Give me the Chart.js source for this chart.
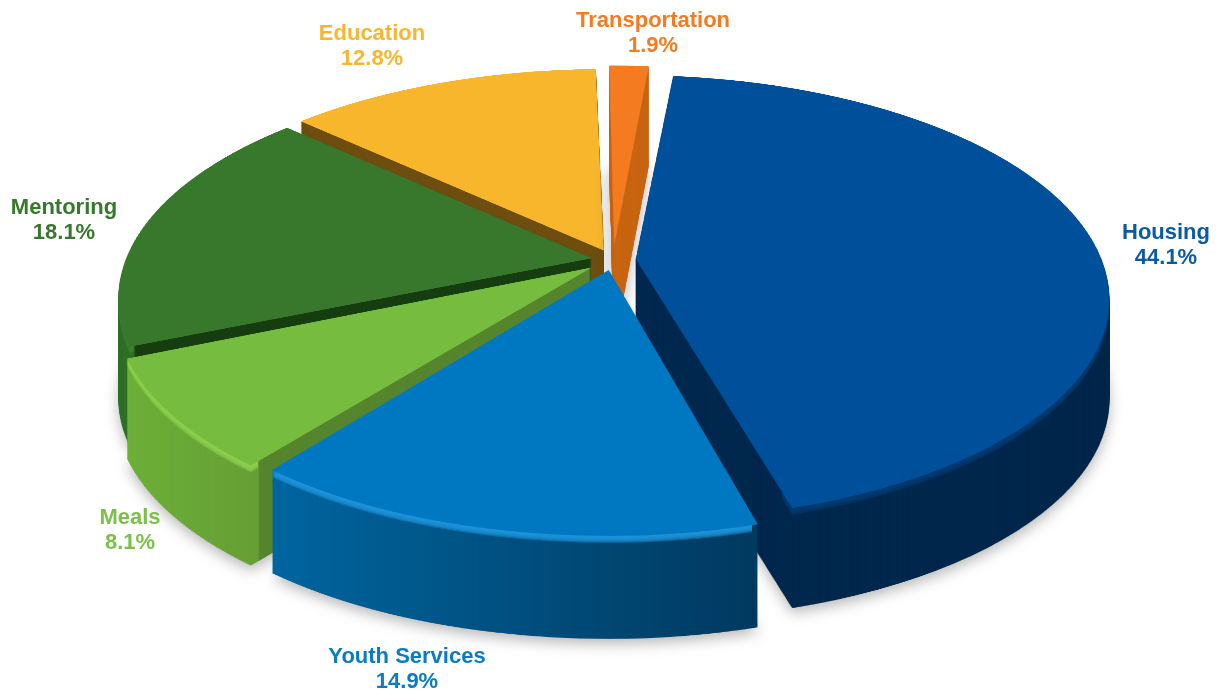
<!DOCTYPE html>
<html>
<head>
<meta charset="utf-8">
<title>Expenses</title>
<script src="https://cdn.jsdelivr.net/npm/chart.js@4"></script>
<style>
  html, body { margin: 0; padding: 0; background: #fff; }
  #wrap { position: relative; width: 1220px; height: 690px; overflow: hidden; filter: blur(0.5px); }
  #pie { position: absolute; left: 0; top: 0; }
  .lbl { position: absolute; transform: translateX(-50%); text-align: center; white-space: nowrap;
         font: bold 22px/25px "Liberation Sans", Arial, sans-serif; }
</style>
</head>
<body>
<div id="wrap"><canvas id="pie" width="1220" height="690"></canvas></div>
<script>
const categories = ["Housing", "Youth Services", "Meals", "Mentoring", "Education", "Transportation"];
const shares = [44.1, 14.9, 8.1, 18.1, 12.8, 1.9];
const shareLabels = ["44.1%", "14.9%", "8.1%", "18.1%", "12.8%", "1.9%"];
const explode = [59, 56, 68, 56, 58, 80];

const faceColors = ["#004f9b", "#0078c1", "#76bd3f", "#37782c", "#f8b62d", "#f47b20"];
const textColors = ["#0a5aa5", "#0a7cc4", "#7cc04a", "#37782c", "#f8b62d", "#f47b20"];
const bevelColors = ["#003a72", "#1e95dc", "#8dd14e", "#3c8030", "#8a6518", "#d26d18"];
// x position (px) -> colour of the extruded sides
const sideStops = [
  [[640, "#00284f"], [1110, "#00264a"]],
  [[275, "#00659f"], [750, "#003a60"]],
  [[130, "#6caf38"], [258, "#669f35"], [260, "#55852d"], [600, "#55852d"]],
  [[118, "#2e7026"], [133, "#2e7026"], [136, "#163d10"], [600, "#163d10"]],
  [[290, "#6e4e10"], [610, "#6e4e10"]],
  [[600, "#c86512"], [660, "#c86512"]],
];
const depths = [100, 103, 100, 100, 100, 100];
const paintOrder = [4, 5, 3, 2, 0, 1];
const labelSpots = [[1166, 219], [407, 643], [130, 504], [64, 194], [372, 20], [653, 7]];
// where the light rim shows: only along the outer edge, not the cut edges
const bevelAreas = [[782, 280, 340, 400], [260, 468, 492, 220], [100, 340, 158, 260], [100, 280, 34, 120], null, null];

// perspective of the disc on screen
const view = { x0: 613, y0: 260, rx: 466, ry: 216, p: 0.173 };
const W = 1220, H = 690, SS = 2;

function newLayer(w, h) {
  const c = document.createElement("canvas");
  c.width = w; c.height = h;
  return c;
}

// copy the flat drawing row by row through the perspective
function warp(flat, out, R) {
  const fcx = flat.width / 2, fcy = flat.height / 2, r = R * SS;
  const rowV = (y) => { const d = y - view.y0; return d / (view.ry + view.p * d); };
  for (let y = 0; y < H; y++) {
    const v1 = rowV(y), v2 = rowV(y + 1);
    const sy = fcy + v1 * r, sh = (v2 - v1) * r;
    if (sy + sh < 0 || sy > flat.height) continue;
    const k = view.rx / (1 - view.p * (v1 + v2) / 2) / r;
    out.drawImage(flat, 0, sy, flat.width, sh, view.x0 - fcx * k, y, flat.width * k, 1);
  }
}

function tint(layer, paint) {
  const c = newLayer(W, H), g = c.getContext("2d");
  g.drawImage(layer, 0, 0);
  g.globalCompositeOperation = "source-in";
  g.fillStyle = paint;
  g.fillRect(0, 0, W, H);
  return c;
}

const pie3d = {
  id: "pie3d",
  beforeDatasetsDraw(chart) {
    const ctx = chart.ctx;
    const arcs = chart.getDatasetMeta(0).data;
    const flat = newLayer(W * SS, H * SS), fg = flat.getContext("2d");
    fg.scale(SS, SS);
    const R = arcs[0].outerRadius;
    paintOrder.forEach((i) => {
      const arc = arcs[i];
      // ArcElement grows the radius of an offset slice, take that back so all rims share one circle
      const fix = 1 - Math.sin(Math.min(Math.PI, arc.circumference));
      arc.outerRadius = R - explode[i] / 4 * fix;
      fg.clearRect(0, 0, W, H);
      fg.save();
      fg.translate(W / 2 - arc.x, H / 2 - arc.y);
      arc.draw(fg);
      fg.restore();
      const face = newLayer(W, H);
      warp(flat, face.getContext("2d"), R);

      const stops = sideStops[i], x0 = stops[0][0], x1 = stops[stops.length - 1][0];
      const grad = ctx.createLinearGradient(x0, 0, x1, 0);
      stops.forEach(([x, col]) => grad.addColorStop((x - x0) / (x1 - x0), col));
      const side = tint(face, grad), bevel = tint(face, bevelColors[i]);

      ctx.save();
      ctx.shadowColor = "rgba(0,0,0,0.28)";
      ctx.shadowBlur = 14;
      ctx.shadowOffsetY = 5;
      ctx.drawImage(side, 0, depths[i]);
      ctx.restore();
      for (let d = depths[i] - 1; d > 0; d--) ctx.drawImage(side, 0, d);
      if (bevelAreas[i]) {
        ctx.save();
        ctx.beginPath();
        ctx.rect(...bevelAreas[i]);
        ctx.clip();
        ctx.globalAlpha = 0.4;
        for (let d = 7; d > 0; d--) ctx.drawImage(bevel, 0, d);
        ctx.restore();
      }
      ctx.drawImage(face, 0, 0);
    });
    return false;
  },
};

new Chart(document.getElementById("pie"), {
  type: "pie",
  data: {
    labels: categories,
    datasets: [{ data: shares, backgroundColor: faceColors, borderWidth: 0, offset: explode }],
  },
  options: {
    responsive: false,
    animation: false,
    rotation: 5.6,
    radius: 300,
    events: [],
    layout: { padding: 0 },
    plugins: { legend: { display: false }, tooltip: { enabled: false } },
  },
  plugins: [pie3d],
});

const wrap = document.getElementById("wrap");
categories.forEach((name, i) => {
  const el = document.createElement("div");
  el.className = "lbl";
  el.style.left = labelSpots[i][0] + "px";
  el.style.top = labelSpots[i][1] + "px";
  el.style.color = textColors[i];
  el.innerHTML = name + "<br>" + shareLabels[i];
  wrap.appendChild(el);
});
</script>
</body>
</html>
